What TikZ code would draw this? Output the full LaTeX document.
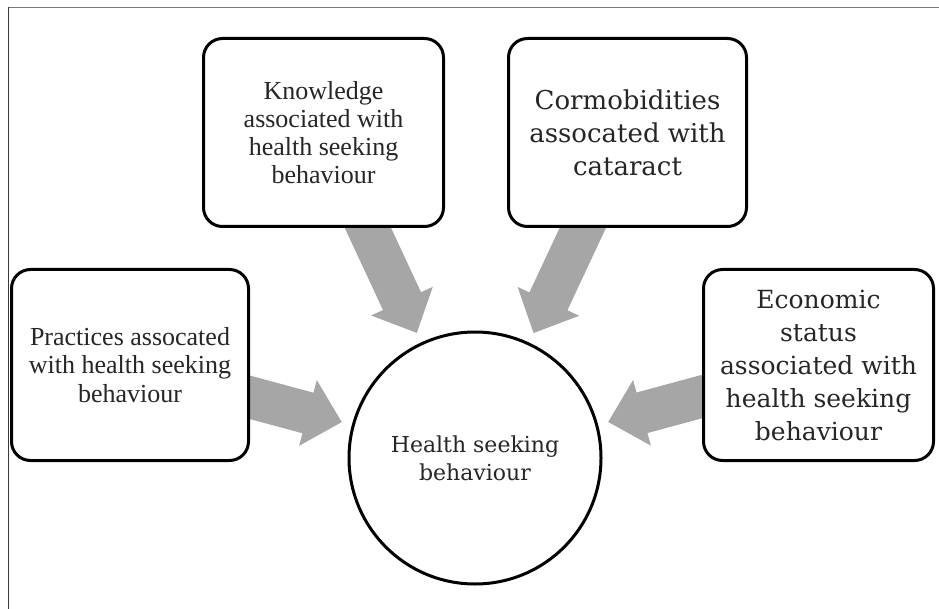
\documentclass[tikz,border=0pt]{standalone}
\usepackage{fontspec}
\setmainfont{Liberation Serif}
\newfontfamily\camfont{DejaVu Serif}
\usetikzlibrary{calc,backgrounds}
\definecolor{arrowgrey}{HTML}{A6A6A6}
\definecolor{txt}{HTML}{262626}
\definecolor{frametop}{HTML}{7A7A7A}
\definecolor{frameleft}{HTML}{3A3A3A}
\newcommand{\blockarr}[2]{%
  \coordinate (tip) at ($(#2.center)!138pt!(#1.center)$);
  \coordinate (base) at ($(tip)!35pt!(#1.center)$);
  \fill[arrowgrey] ($(#1.center)!21pt!90:(tip)$) -- ($(base)!21pt!90:(tip)$)
    -- ($(base)!34pt!90:(tip)$) -- (tip) -- ($(base)!34pt!-90:(tip)$)
    -- ($(base)!21pt!-90:(tip)$) -- ($(#1.center)!21pt!-90:(tip)$) -- cycle;
}
\begin{document}
\begin{tikzpicture}[x=1pt,y=-1pt,
  box/.style={draw=black, line width=3pt, rounded corners=19pt, fill=white,
    align=center, text=txt, inner sep=0pt},
  hub/.style={draw=black, line width=3pt, circle, fill=white, align=center,
    text=txt, inner sep=0pt, minimum size=252pt}]
\useasboundingbox (0,0) rectangle (939,609);

\node[box, minimum width=240pt, minimum height=188pt,
  font=\fontsize{26}{28}\selectfont] (know) at (323.5,132.5)
  {Knowledge\\associated with\\health seeking\\behaviour};
\node[box, minimum width=238pt, minimum height=188pt,
  font=\camfont\fontsize{26}{33}\selectfont] (cormo) at (627.5,132.5)
  {Cormobidities\\assocated with\\cataract};
\node[box, minimum width=237pt, minimum height=191pt,
  font=\fontsize{26}{28.5}\selectfont] (prac) at (130,365)
  {Practices assocated\\with health seeking\\behaviour};
\node[box, minimum width=230pt, minimum height=191pt,
  font=\camfont\fontsize{25}{33}\selectfont] (econ) at (818.5,365)
  {Economic\\status\\associated with\\health seeking\\behaviour};
\node[hub, font=\camfont\fontsize{22}{28}\selectfont] (hsb) at (475,458)
  {Health seeking\\behaviour};

\begin{scope}[on background layer]
  \fill[white] (0,0) rectangle (939,609);
  \draw[frametop, line width=1.6pt] (8,7.5) -- (939,7.5);
  \draw[frameleft, line width=1.6pt] (8.5,7) -- (8.5,609);
  \blockarr{know}{hsb}
  \blockarr{cormo}{hsb}
  \blockarr{prac}{hsb}
  \blockarr{econ}{hsb}
\end{scope}
\end{tikzpicture}
\end{document}
